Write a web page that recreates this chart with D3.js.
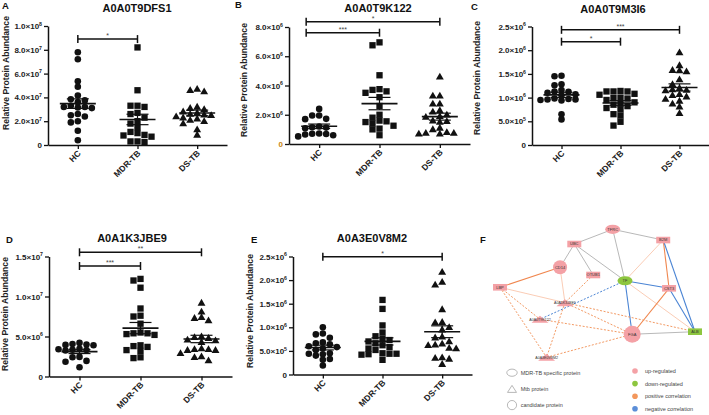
<!DOCTYPE html>
<html><head><meta charset="utf-8">
<script src="https://cdn.jsdelivr.net/npm/d3@7"></script>
<style>
body{margin:0;background:#fff;}
svg{display:block;font-family:"Liberation Sans",Arial,Helvetica,sans-serif;}
</style></head><body>
<svg id="chart" width="709" height="415"></svg>
<script>
// ---------------- DATA ----------------
const groups = ["HC", "MDR-TB", "DS-TB"];
const titles = {A: "A0A0T9DFS1", B: "A0A0T9K122", C: "A0A0T9M3I6", D: "A0A1K3JBE9", E: "A0A3E0V8M2"};
const yAxisTitle = "Relative Protein Abundance";

const ticksA = [0, 2e7, 4e7, 6e7, 8e7, 1e8];
const ticksB = [0, 2e6, 4e6, 6e6, 8e6];
const ticksC = [0, 5e5, 1e6, 1.5e6, 2e6, 2.5e6];
const ticksD = [0, 5e6, 1e7, 1.5e7];
const ticksE = [0, 5e5, 1e6, 1.5e6, 2e6, 2.5e6];

const A_HC  = [7.8e7,7.2e7,5.35e7,4.9e7,4.15e7,3.85e7,3.75e7,3.6e7,3.3e7,3.2e7,3.2e7,3.15e7,3.1e7,2.6e7,2.5e7,2.4e7,2.0e7,1.9e7,1.2e7,0.4e7];
const A_MDR = [8.2e7,4.6e7,3.3e7,3.3e7,3.2e7,2.7e7,2.6e7,2.3e7,2.0e7,1.8e7,1.5e7,1.1e7,1.0e7,0.85e7,0.7e7,0.8e7,0.3e7,0.3e7,0.25e7];
const A_DS  = [4.7e7,4.6e7,4.5e7,3.2e7,3.1e7,3.0e7,2.8e7,2.7e7,2.6e7,2.55e7,2.5e7,2.4e7,2.3e7,2.2e7,2.1e7,2.0e7,1.8e7,1.3e7,0.85e7];

const B_HC  = [2.4e6,1.95e6,1.95e6,1.72e6,1.7e6,1.2e6,1.15e6,1.12e6,1.08e6,0.72e6,0.7e6,0.68e6,0.65e6,0.6e6,0.52e6];
const B_MDR = [6.95e6,6.75e6,4.7e6,3.75e6,3.7e6,3.6e6,3.5e6,3.2e6,2.6e6,2.0e6,1.8e6,1.6e6,1.55e6,1.5e6,1.4e6,1.25e6,1.05e6,1.0e6,0.6e6];
const B_DS  = [4.6e6,3.3e6,3.3e6,2.75e6,2.75e6,2.3e6,2.2e6,2.0e6,1.9e6,1.85e6,1.6e6,1.55e6,1.5e6,1.1e6,1.0e6,0.8e6,0.75e6,0.75e6,0.7e6,0.7e6];

const C_HC  = [1.46e6,1.45e6,1.28e6,1.26e6,1.16e6,1.13e6,1.12e6,1.10e6,1.07e6,1.05e6,0.98e6,0.97e6,0.96e6,0.96e6,0.95e6,0.94e6,0.65e6,0.54e6];
const C_MDR = [1.13e6,1.13e6,1.14e6,1.13e6,1.08e6,1.06e6,1.0e6,0.99e6,0.98e6,0.95e6,0.90e6,0.87e6,0.85e6,0.82e6,0.78e6,0.75e6,0.65e6,0.62e6,0.49e6,0.41e6];
const C_DS  = [1.95e6,1.68e6,1.58e6,1.57e6,1.55e6,1.38e6,1.28e6,1.20e6,1.17e6,1.16e6,1.15e6,1.07e6,1.05e6,1.02e6,0.97e6,0.93e6,0.87e6,0.81e6,0.67e6];

const D_HC  = [4.2e6,4.05e6,4.0e6,3.95e6,3.9e6,3.45e6,3.4e6,3.35e6,3.3e6,3.25e6,2.45e6,2.4e6,1.95e6,1.85e6,1.15e6];
const D_MDR = [12.2e6,12.0e6,11.1e6,8.5e6,7.6e6,7.5e6,6.6e6,5.5e6,5.4e6,5.4e6,5.3e6,5.2e6,3.9e6,3.8e6,3.7e6,3.3e6,3.2e6,2.4e6,2.3e6];
const D_DS  = [9.2e6,8.1e6,7.4e6,7.3e6,7.0e6,5.0e6,4.9e6,4.8e6,4.6e6,4.5e6,4.3e6,3.5e6,3.4e6,3.4e6,3.3e6,3.3e6,2.9e6,2.5e6,2.4e6,2.0e6];

const E_HC  = [1.0e6,0.87e6,0.85e6,0.78e6,0.68e6,0.66e6,0.64e6,0.6e6,0.58e6,0.55e6,0.52e6,0.45e6,0.44e6,0.43e6,0.4e6,0.33e6,0.31e6,0.19e6];
const E_MDR = [1.58e6,1.39e6,1.04e6,0.89e6,0.81e6,0.76e6,0.73e6,0.7e6,0.66e6,0.62e6,0.58e6,0.55e6,0.52e6,0.45e6,0.44e6,0.44e6,0.43e6,0.42e6,0.31e6];
const E_DS  = [2.17e6,1.96e6,1.9e6,1.38e6,1.11e6,1.1e6,1.0e6,0.95e6,0.8e6,0.78e6,0.7e6,0.65e6,0.63e6,0.62e6,0.56e6,0.55e6,0.36e6,0.35e6,0.33e6,0.22e6];

const sigA = [{from: "HC", to: "MDR-TB", label: "*", level: 8.9e7}];
const sigB = [{from: "HC", to: "DS-TB", label: "*", level: 8.36e6}, {from: "HC", to: "MDR-TB", label: "***", level: 7.61e6}];
const sigC = [{from: "HC", to: "DS-TB", label: "***", level: 2.43e6}, {from: "HC", to: "MDR-TB", label: "*", level: 2.18e6}];
const sigD = [{from: "HC", to: "DS-TB", label: "**", level: 1.5525e7}, {from: "HC", to: "MDR-TB", label: "***", level: 1.381e7}];
const sigE = [{from: "HC", to: "DS-TB", label: "*", level: 2.496e6}];

// network (panel F): node positions in a 0-100 layout grid
const netNodes = [
  {id: "TFRC", shape: "ellipse", reg: "up", gx: 57.8, gy: 0},
  {id: "UBC", shape: "rect", reg: "up", gx: 38.1, gy: 11.5},
  {id: "B2M", shape: "rect", reg: "up", gx: 83.7, gy: 8.4},
  {id: "CD14", shape: "circle", reg: "up", gx: 30.8, gy: 29.7, r: 7},
  {id: "OTUB1", shape: "rect", reg: "up", gx: 47.8, gy: 35.7},
  {id: "TF", shape: "ellipse", reg: "down", gx: 64.1, gy: 40.2},
  {id: "CST3", shape: "rect", reg: "up", gx: 86.7, gy: 46.1},
  {id: "LBP", shape: "rect", reg: "up", gx: 0, gy: 45.3},
  {id: "A0A1K3JBE9", shape: "triangle", reg: "up", gx: 33.3, gy: 57.3},
  {id: "A0A0T9K122", shape: "triangle", reg: "up", gx: 20.5, gy: 70.3},
  {id: "FGA", shape: "circle", reg: "up", gx: 67.8, gy: 82.0, r: 8.5},
  {id: "ALB", shape: "rect", reg: "down", gx: 100, gy: 80.0},
  {id: "A0A3E0V8M2", shape: "triangle", reg: "up", gx: 23.9, gy: 100}
];
const netEdges = [
  ["TFRC","UBC","gray"],["TFRC","B2M","gray"],["TFRC","TF","gray"],["UBC","CD14","gray"],
  ["UBC","OTUB1","gray"],["UBC","TF","gray"],["FGA","ALB","gray"],
  ["TF","B2M","light"],["CD14","A0A1K3JBE9","light"],["LBP","A0A1K3JBE9","light"],["TF","ALB","light"],
  ["LBP","CD14","pos"],["B2M","CST3","pos"],["CST3","FGA","pos"],
  ["B2M","ALB","neg"],["CST3","ALB","neg"],["TF","CST3","neg"],["TF","FGA","neg"],
  ["TF","A0A0T9K122","negDash"],
  ["OTUB1","A0A1K3JBE9","posDash"],["LBP","A0A0T9K122","posDash"],["LBP","A0A3E0V8M2","posDash"],
  ["A0A1K3JBE9","FGA","posDash"],["A0A1K3JBE9","ALB","posDash"],["A0A0T9K122","FGA","posDash"],
  ["A0A3E0V8M2","FGA","posDash"],["A0A1K3JBE9","A0A3E0V8M2","posDash"]
];
const legendShapes = [{shape: "ellipse", label: "MDR-TB specific protein"}, {shape: "triangle", label: "Mtb protein"}, {shape: "circle", label: "candidate protein"}];
const legendColors = [{key: "up", label: "up-regulated"}, {key: "down", label: "down-regulated"}, {key: "pos", label: "positive correlation"}, {key: "neg", label: "negative correlation"}];

// ---------------- LAYOUT / STYLE ----------------
const layout = {
  A: {x0: 48, x1: 227, y0: 145, y1: 26, lx: 2, ly: 9, tx: 137, ty: 12, yx: 8.5, yy: 73},
  B: {x0: 289, x1: 470, y0: 144, y1: 27, lx: 235, ly: 8, tx: 378, ty: 12, yx: 246.5, yy: 80, bx: -13},
  C: {x0: 532, x1: 709, y0: 145, y1: 26.5, lx: 471, ly: 10, tx: 613, ty: 12.5, yx: 480, yy: 78},
  D: {x0: 49, x1: 232, y0: 376.5, y1: 256.5, lx: 6, ly: 243, tx: 132, ty: 242, yx: 8, yy: 314},
  E: {x0: 293, x1: 472, y0: 374.5, y1: 256.5, lx: 251, ly: 243, tx: 372, ty: 241.5, yx: 253, yy: 311}
};
const panels = [
  {key: "A", ticks: ticksA, data: [A_HC, A_MDR, A_DS], sig: sigA},
  {key: "B", ticks: ticksB, data: [B_HC, B_MDR, B_DS], sig: sigB},
  {key: "C", ticks: ticksC, data: [C_HC, C_MDR, C_DS], sig: sigC},
  {key: "D", ticks: ticksD, data: [D_HC, D_MDR, D_DS], sig: sigD},
  {key: "E", ticks: ticksE, data: [E_HC, E_MDR, E_DS], sig: sigE}
];
const symbolTypes = [d3.symbolCircle, d3.symbolSquare, d3.symbolTriangle];
const symbolSizes = [34, 40, 27];
const INK = "#111";

const svg = d3.select("#chart");

function supFormat(sel, v) {
  sel.text(null);
  if (v === 0) { sel.text("0"); return; }
  const e = Math.floor(Math.log10(v) + 1e-9);
  const m = v / Math.pow(10, e);
  sel.append("tspan").text(m.toFixed(1) + "\u00d710");
  sel.append("tspan").attr("dy", -3.2).attr("font-size", 5.2).text(e);
}

function swarm(values, cx, y, step, minD) {
  const pts = values.map(v => ({v, y: y(v)})).sort((a, b) => a.y - b.y);
  const offs = [0];
  for (let k = 1; k < 8; k++) offs.push(-k * step, k * step);
  const placed = [];
  pts.forEach(p => {
    for (const o of offs) {
      const x = cx + o;
      if (placed.every(q => Math.hypot(q.x - x, q.y - p.y) >= minD)) { p.x = x; break; }
    }
    placed.push(p);
  });
  return pts;
}

panels.forEach(p => {
  const L = layout[p.key];
  const g = svg.append("g");
  const x = d3.scalePoint().domain(groups).range([L.x0, L.x1]).padding(0.5);
  const y = d3.scaleLinear().domain([0, p.ticks[p.ticks.length - 1]]).range([L.y0, L.y1]);

  // y axis
  const ya = g.append("g").attr("transform", `translate(${L.x0},0)`)
    .call(d3.axisLeft(y).tickValues(p.ticks).tickSize(4).tickSizeOuter(0).tickPadding(2));
  ya.select(".domain").attr("stroke", INK).attr("stroke-width", 1.5);
  ya.selectAll(".tick line").attr("stroke", INK).attr("stroke-width", 1.3);
  ya.selectAll(".tick text").attr("font-size", 8).attr("font-weight", "bold").attr("fill", "#222")
    .attr("font-family", "'Liberation Sans',Arial,sans-serif")
    .each(function(v) { supFormat(d3.select(this), v); });
  if (p.key === "B") ya.selectAll(".tick text").filter(v => v === 0).attr("fill", "#c8860f");

  // x axis
  const xa = g.append("g").attr("transform", `translate(0,${L.y0})`)
    .call(d3.axisBottom(x).tickSize(4).tickSizeOuter(0).tickPadding(0));
  xa.select(".domain").attr("stroke", INK).attr("stroke-width", 1.5);
  xa.selectAll(".tick line").attr("stroke", INK).attr("stroke-width", 1.3);
  xa.selectAll(".tick text").attr("font-size", 8.5).attr("font-weight", "bold").attr("fill", "#222")
    .attr("font-family", "'Liberation Sans',Arial,sans-serif")
    .attr("text-anchor", "end").attr("dy", null).attr("y", null)
    .attr("transform", "translate(3,9) rotate(-45)");

  // points + mean/SEM
  p.data.forEach((vals, gi) => {
    const cx = x(groups[gi]);
    const pts = swarm(vals, cx, y, 7, 5.2);
    const sym = d3.symbol().type(symbolTypes[gi]).size(symbolSizes[gi]);
    g.append("g").selectAll("path").data(pts).join("path")
      .attr("d", sym).attr("transform", d => `translate(${d.x},${d.y + (gi === 2 ? 0.5 : 0)})`)
      .attr("fill", INK);
    const mean = d3.mean(vals);
    const sem = d3.deviation(vals) / Math.sqrt(vals.length);
    const sg = g.append("g").attr("stroke", INK).attr("fill", "none");
    sg.append("line").attr("x1", cx).attr("x2", cx).attr("y1", y(mean - sem)).attr("y2", y(mean + sem)).attr("stroke-width", 1.2);
    sg.append("line").attr("x1", cx - 18).attr("x2", cx + 18).attr("y1", y(mean)).attr("y2", y(mean)).attr("stroke-width", 1.6);
    [mean - sem, mean + sem].forEach(v =>
      sg.append("line").attr("x1", cx - 11).attr("x2", cx + 11).attr("y1", y(v)).attr("y2", y(v)).attr("stroke-width", 1.2));
  });

  // significance brackets
  p.sig.forEach(s => {
    const xa1 = x(s.from) + (L.bx || 0), xb = x(s.to), yy = y(s.level);
    const bg = g.append("g").attr("stroke", INK).attr("stroke-width", 1.5);
    bg.append("line").attr("x1", xa1).attr("x2", xb).attr("y1", yy).attr("y2", yy);
    bg.append("line").attr("x1", xa1).attr("x2", xa1).attr("y1", yy - 4).attr("y2", yy + 4);
    bg.append("line").attr("x1", xb).attr("x2", xb).attr("y1", yy - 4).attr("y2", yy + 4);
    g.append("text").attr("x", (xa1 + xb) / 2).attr("y", yy - 1).attr("text-anchor", "middle")
      .attr("font-size", 7).attr("fill", "#444").text(s.label);
  });

  // titles and labels
  g.append("text").attr("x", L.tx).attr("y", L.ty).attr("text-anchor", "middle")
    .attr("font-size", 11).attr("font-weight", "bold").attr("fill", "#111").text(titles[p.key]);
  g.append("text").attr("x", L.lx).attr("y", L.ly)
    .attr("font-size", 9.5).attr("font-weight", "bold").attr("fill", "#111").text(p.key);
  g.append("text").attr("transform", `translate(${L.yx},${L.yy}) rotate(-90)`).attr("text-anchor", "middle")
    .attr("font-size", 8.6).attr("font-weight", "bold").attr("fill", "#222").text(yAxisTitle);
});

// ---------------- PANEL F: network ----------------
const fx = d3.scaleLinear().domain([0, 100]).range([500, 695]);
const fy = d3.scaleLinear().domain([0, 100]).range([229.3, 357.3]);
const nodeColor = {up: "#f4a1a6", down: "#8dc63f"};
const edgeStyle = {
  gray: {c: "#b0b0b0", w: 0.9, d: null},
  light: {c: "#f9c6ad", w: 0.9, d: null},
  pos: {c: "#f0874f", w: 1.1, d: null},
  neg: {c: "#4a84d4", w: 1.1, d: null},
  negDash: {c: "#4a84d4", w: 1.0, d: "2,1.6"},
  posDash: {c: "#f39a64", w: 1.0, d: "2,1.6"}
};
const legendDot = {up: "#f4a1a6", down: "#8dc63f", pos: "#f3975c", neg: "#5b8ed8"};
const byId = new Map(netNodes.map(n => [n.id, n]));
const F = svg.append("g");
F.append("text").attr("x", 480).attr("y", 243).attr("font-size", 9.5).attr("font-weight", "bold").attr("fill", "#111").text("F");

F.append("g").selectAll("line").data(netEdges).join("line")
  .attr("x1", d => fx(byId.get(d[0]).gx)).attr("y1", d => fy(byId.get(d[0]).gy))
  .attr("x2", d => fx(byId.get(d[1]).gx)).attr("y2", d => fy(byId.get(d[1]).gy))
  .attr("stroke", d => edgeStyle[d[2]].c).attr("stroke-width", d => edgeStyle[d[2]].w)
  .attr("stroke-dasharray", d => edgeStyle[d[2]].d);

function trianglePath(cx, cy, w, h) {
  return `M${cx - w / 2},${cy + h / 2}L${cx + w / 2},${cy + h / 2}L${cx},${cy - h / 2}Z`;
}
const ng = F.append("g").selectAll("g").data(netNodes).join("g");
ng.each(function(n) {
  const el = d3.select(this), cx = fx(n.gx), cy = fy(n.gy), col = nodeColor[n.reg];
  if (n.shape === "ellipse") el.append("ellipse").attr("cx", cx).attr("cy", cy).attr("rx", 7.5).attr("ry", 4.6).attr("fill", col);
  else if (n.shape === "rect") el.append("rect").attr("x", cx - 7).attr("y", cy - 3.3).attr("width", 14).attr("height", 6.6).attr("fill", col);
  else if (n.shape === "circle") el.append("circle").attr("cx", cx).attr("cy", cy).attr("r", n.r).attr("fill", col);
  else el.append("path").attr("d", trianglePath(cx, cy, 17, 7)).attr("fill", col);
  el.append("text").attr("x", cx).attr("y", cy + 1.4).attr("text-anchor", "middle")
    .attr("font-size", n.shape === "triangle" ? 3.6 : 4).attr("fill", "#333").text(n.id);
});

// legend
const lg = F.append("g");
legendShapes.forEach((d, i) => {
  const cy = 372.7 + i * 16.2, cx = 512;
  if (d.shape === "ellipse") lg.append("ellipse").attr("cx", cx).attr("cy", cy).attr("rx", 5.2).attr("ry", 3.6);
  else if (d.shape === "triangle") lg.append("path").attr("d", trianglePath(cx, cy, 9, 7));
  else lg.append("circle").attr("cx", cx).attr("cy", cy).attr("r", 4.6);
  lg.append("text").attr("x", 520.7).attr("y", cy + 2).attr("font-size", 5.5).attr("fill", "#444").text(d.label);
});
lg.selectAll("ellipse,path,circle").attr("fill", "none").attr("stroke", "#9a9a9a").attr("stroke-width", 0.7);
legendColors.forEach((d, i) => {
  const cy = 371 + i * 12.6;
  lg.append("circle").attr("cx", 635).attr("cy", cy).attr("r", 2.8).attr("fill", legendDot[d.key]);
  lg.append("text").attr("x", 645).attr("y", cy + 2).attr("font-size", 5.5).attr("fill", "#444").text(d.label);
});
</script>
</body></html>
